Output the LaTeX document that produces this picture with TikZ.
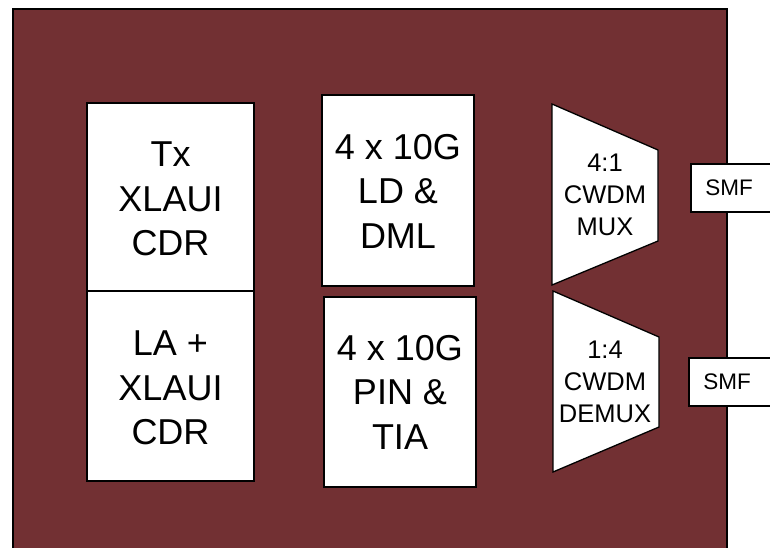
\documentclass[tikz,border=0pt]{standalone}
\usepackage{fontspec}
\setmainfont{Liberation Sans}
\definecolor{bgred}{RGB}{114,48,51}
\begin{document}
\begin{tikzpicture}[x=1pt,y=-1pt,
  blk/.style={draw=black,fill=white,line width=1.3pt},
  big/.style={align=center,inner sep=0pt,font=\fontsize{36}{44.5}\selectfont},
  mid/.style={align=center,inner sep=0pt,font=\fontsize{25.5}{32}\selectfont},
  small/.style={align=center,inner sep=0pt,font=\fontsize{22.5}{27}\selectfont}]
\useasboundingbox (0,0) rectangle (770,548);
% background
\fill[bgred] (13,9) rectangle (727,560);
\draw[black,line width=1.5pt] (13,560) -- (13,9) -- (727,9) -- (727,560);
% left boxes
\draw[blk] (87,103) rectangle (254,291);
\draw[blk] (87,291) rectangle (254,481);
\node[big] (tx) at (170.5,199) {Tx\\XLAUI\\CDR};
\node[big] (la) at (170.5,388) {LA +\\XLAUI\\CDR};
% middle boxes
\draw[blk] (322,95) rectangle (474,286);
\draw[blk] (324,297) rectangle (476,487);
\node[big] (ld) at (398,191) {4 x 10G\\LD \&\\DML};
\node[big] (pin) at (400,392) {4 x 10G\\PIN \&\\TIA};
% trapezoids
\draw[blk,line join=miter] (552,104) -- (658,150) -- (658,241) -- (552,285) -- cycle;
\draw[blk,line join=miter] (553,291) -- (659,337) -- (659,427) -- (553,472) -- cycle;
\node[mid] (mux) at (605,195) {4:1\\CWDM\\MUX};
\node[mid] (demux) at (605,382) {1:4\\CWDM\\DEMUX};
% SMF boxes
\draw[blk] (691,164) rectangle (775,212);
\draw[blk] (689,358) rectangle (775,406);
\node[small] (smf1) at (729,188) {SMF};
\node[small] (smf2) at (727,382) {SMF};
\end{tikzpicture}
\end{document}
